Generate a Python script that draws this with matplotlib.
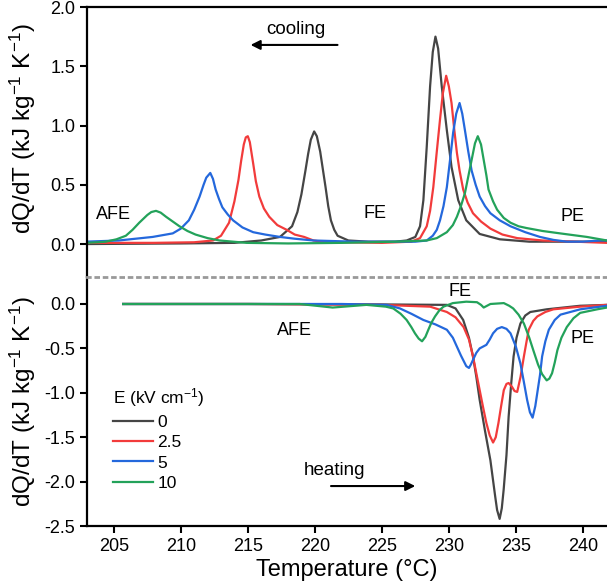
import matplotlib
matplotlib.use('Agg')
import matplotlib.pyplot as plt

plt.rcParams['font.family'] = ['Liberation Sans', 'DejaVu Sans']
plt.rcParams['mathtext.default'] = 'regular'
plt.rcParams['axes.unicode_minus'] = False

# cooling curves (top panel)
cool_T0 = [203, 210, 214, 216, 217.4, 218.3, 218.7, 219.0, 219.3, 219.5, 219.7, 219.95, 220.15,
           220.4, 220.6, 220.8, 221.0, 221.2, 221.45, 221.7, 222.5, 224, 226, 226.85, 227.5,
           227.85, 228.1, 228.35, 228.6, 228.8, 229.0, 229.2, 229.47, 229.85, 230.2, 230.7,
           231.3, 232.3, 233.8, 236, 241.8]
cool_Q0 = [0.0, 0.005, 0.01, 0.03, 0.06, 0.15, 0.27, 0.42, 0.62, 0.76, 0.88, 0.95, 0.91,
           0.78, 0.63, 0.48, 0.32, 0.20, 0.12, 0.07, 0.03, 0.02, 0.02, 0.03, 0.06,
           0.15, 0.37, 0.82, 1.33, 1.62, 1.75, 1.65, 1.33, 0.96, 0.65, 0.37,
           0.2, 0.085, 0.04, 0.02, 0.02]

cool_T25 = [203, 208, 211, 212.4, 213.0, 213.6, 214.0, 214.3, 214.5, 214.7, 214.85, 215.0,
            215.15, 215.4, 215.6, 215.86, 216.2, 216.6, 217.2, 217.9, 218.5, 219.2, 219.9,
            220.5, 222, 225, 227.2, 227.85, 228.35, 228.6, 228.84, 229.1, 229.34, 229.55,
            229.8, 230.0, 230.2, 230.4, 230.6, 230.8, 231.07, 231.4, 231.8, 232.4, 233.1,
            234, 235.1, 237, 241.8]
cool_Q25 = [0.01, 0.01, 0.015, 0.03, 0.07, 0.18, 0.36, 0.54, 0.70, 0.84, 0.90, 0.91,
            0.86, 0.68, 0.53, 0.40, 0.30, 0.23, 0.16, 0.12, 0.08, 0.06, 0.03,
            0.02, 0.015, 0.01, 0.02, 0.05, 0.15, 0.28, 0.48, 0.78, 1.05, 1.27,
            1.42, 1.33, 1.19, 0.97, 0.77, 0.62, 0.46, 0.35, 0.26, 0.19, 0.13,
            0.08, 0.05, 0.03, 0.01]

cool_T5 = [202.9, 205.37, 207.9, 209.4, 210.0, 210.6, 211.0, 211.4, 211.7, 211.9, 212.2,
           212.4, 212.6, 212.85, 213.1, 213.5, 213.9, 214.6, 215.4, 216.3, 217.4, 218.5,
           219.9, 223, 226.5, 227.5, 228.35, 228.8, 229.1, 229.34, 229.6, 229.85, 230.1,
           230.32, 230.55, 230.8, 231.0, 231.2, 231.45, 231.7, 232.0, 232.3, 232.7, 233.1,
           233.8, 234.6, 235.7, 236.8, 237.8, 238.8, 240, 241.3, 241.8]
cool_Q5 = [0.02, 0.03, 0.06, 0.09, 0.13, 0.2, 0.29, 0.4, 0.5, 0.56, 0.60,
           0.55, 0.46, 0.38, 0.31, 0.25, 0.2, 0.14, 0.1, 0.08, 0.06, 0.045,
           0.03, 0.02, 0.02, 0.02, 0.03, 0.07, 0.12, 0.2, 0.32, 0.48, 0.72,
           0.94, 1.1, 1.19, 1.10, 0.96, 0.78, 0.62, 0.5, 0.4, 0.32, 0.26,
           0.2, 0.15, 0.1, 0.06, 0.035, 0.02, 0.02, 0.03, 0.03]

cool_T10 = [202.9, 203.8, 204.4, 205.2, 205.9, 206.4, 206.9, 207.5, 207.8, 208.15, 208.5,
            208.9, 209.4, 209.9, 210.5, 211.1, 212.0, 212.9, 214.9, 218, 222, 226, 228.35,
            229.1, 229.85, 230.3, 230.6, 230.9, 231.2, 231.45, 231.7, 231.95, 232.16, 232.4,
            232.6, 232.8, 232.96, 233.3, 233.6, 234.1, 234.6, 235.2, 235.8, 237, 238.3,
            239.3, 240.3, 241.8]
cool_Q10 = [0.01, 0.015, 0.02, 0.04, 0.07, 0.12, 0.18, 0.245, 0.27, 0.28, 0.265,
            0.23, 0.19, 0.15, 0.11, 0.08, 0.05, 0.03, 0.01, 0.005, 0.01, 0.02, 0.03,
            0.05, 0.10, 0.16, 0.23, 0.32, 0.43, 0.57, 0.71, 0.85, 0.91, 0.84,
            0.71, 0.58, 0.46, 0.36, 0.29, 0.22, 0.18, 0.15, 0.135, 0.11, 0.09,
            0.075, 0.06, 0.03]

# heating curves (bottom panel)
heat_T0 = [205.7, 215, 225, 229.85, 230.5, 231.07, 231.5, 231.8, 232.05, 232.3, 232.7, 233.1,
           233.46, 233.6, 233.79, 233.95, 234.09, 234.3, 234.46, 234.65, 234.83, 235.05,
           235.34, 235.7, 236.08, 237.3, 239.8, 241.8]
heat_Q0 = [0.0, 0.0, -0.005, -0.01, -0.05, -0.18, -0.38, -0.59, -0.82, -1.08, -1.43, -1.76,
           -2.17, -2.32, -2.42, -2.3, -2.09, -1.7, -1.27, -0.9, -0.59, -0.38,
           -0.22, -0.13, -0.09, -0.06, -0.02, -0.01]

heat_T25 = [205.7, 215, 225, 228.6, 229.85, 230.5, 231.1, 231.5, 231.8, 232.05, 232.3, 232.55,
            232.8, 233.05, 233.3, 233.5, 233.7, 233.9, 234.1, 234.3, 234.46, 234.7, 234.9,
            235.1, 235.35, 235.6, 235.8, 235.96, 236.3, 236.6, 237.2, 237.8, 239.8, 241.8]
heat_Q25 = [0.0, 0.0, -0.01, -0.03, -0.09, -0.15, -0.26, -0.4, -0.59, -0.78, -0.97, -1.16,
            -1.34, -1.48, -1.56, -1.5, -1.34, -1.15, -0.97, -0.9, -0.89, -0.93, -0.98,
            -0.99, -0.82, -0.59, -0.42, -0.29, -0.19, -0.14, -0.09, -0.06, -0.03, -0.01]

heat_T5 = [205.7, 215, 222, 225.35, 226.35, 227.2, 228.1, 229.0, 229.85, 230.3, 230.6, 230.9,
           231.1, 231.3, 231.5, 231.65, 231.8, 232.05, 232.3, 232.8, 233.05, 233.3, 233.6,
           233.95, 234.3, 234.6, 235.0, 235.34, 235.6, 235.84, 236.05, 236.25, 236.45, 236.6,
           236.8, 236.96, 237.2, 237.46, 237.9, 238.33, 239.8, 241.8]
heat_Q5 = [0.0, 0.0, 0.0, -0.01, -0.05, -0.11, -0.18, -0.23, -0.29, -0.38, -0.48, -0.58,
           -0.64, -0.7, -0.72, -0.68, -0.63, -0.55, -0.5, -0.46, -0.4, -0.33, -0.28,
           -0.26, -0.28, -0.33, -0.48, -0.67, -0.88, -1.08, -1.22, -1.28, -1.15, -1.0,
           -0.8, -0.59, -0.42, -0.29, -0.18, -0.12, -0.06, -0.02]

heat_T10 = [205.7, 215, 218.86, 221.33, 223.85, 225.3, 225.85, 226.4, 226.85, 227.2, 227.47,
            227.75, 228.0, 228.25, 228.47, 228.7, 228.97, 229.3, 229.6, 230.3, 231.3, 232.1,
            232.4, 232.6, 232.85, 233.1, 234.1, 234.5, 234.8, 235.2, 235.6, 236.0, 236.3,
            236.65, 236.96, 237.3, 237.5, 237.7, 237.9, 238.1, 238.4, 238.8, 239.3, 239.8,
            241.07, 241.8]
heat_Q10 = [0.0, 0.0, 0.0, -0.04, -0.01, -0.03, -0.05, -0.11, -0.18, -0.26, -0.33,
            -0.39, -0.42, -0.37, -0.29, -0.21, -0.14, -0.07, -0.03, 0.01, 0.026, 0.02,
            -0.01, -0.04, -0.02, 0.0, 0.01, -0.02, -0.05, -0.12, -0.22, -0.38, -0.52,
            -0.68, -0.79, -0.86, -0.84, -0.78, -0.66, -0.52, -0.38, -0.26, -0.16, -0.1,
            -0.06, -0.04]

labels = ['0', '2.5', '5', '10']
colors = ['#454545', '#f23b3b', '#2468dc', '#23a25a']

fig = plt.figure(figsize=(6.07, 5.84), dpi=100)
ax1 = fig.add_axes([0.1433, 0.5257, 0.8567, 0.4623])
ax2 = fig.add_axes([0.1433, 0.0993, 0.8567, 0.4264])

cool = [(cool_T0, cool_Q0), (cool_T25, cool_Q25), (cool_T5, cool_Q5), (cool_T10, cool_Q10)]
heat = [(heat_T0, heat_Q0), (heat_T25, heat_Q25), (heat_T5, heat_Q5), (heat_T10, heat_Q10)]
for (tc, qc), (th, qh), c, lab in zip(cool, heat, colors, labels):
    ax1.plot(tc, qc, color=c, lw=1.6, solid_joinstyle='round')
    ax2.plot(th, qh, color=c, lw=1.6, solid_joinstyle='round', label=lab)

for ax in (ax1, ax2):
    ax.set_xlim(203, 241.8)
    ax.spines['right'].set_visible(False)
    for s in ax.spines.values():
        s.set_linewidth(1.6)
    ax.tick_params(direction='out', length=5, width=1.5, labelsize=13)

ax1.set_ylim(-0.278, 2.0)
ax1.set_yticks([0.0, 0.5, 1.0, 1.5, 2.0])
ax1.set_yticklabels(['0.0', '0.5', '1.0', '1.5', '2.0'])
ax1.spines['bottom'].set_visible(False)
ax1.tick_params(axis='x', bottom=False, labelbottom=False)

ax2.set_ylim(-2.5, 0.304)
ax2.set_yticks([-2.5, -2.0, -1.5, -1.0, -0.5, 0.0])
ax2.set_yticklabels(['-2.5', '-2.0', '-1.5', '-1.0', '-0.5', '0.0'])
ax2.set_xticks([205, 210, 215, 220, 225, 230, 235, 240])
ax2.spines['top'].set_color('#999999')
ax2.spines['top'].set_linestyle((0, (1, 2)))
ax2.spines['top'].set_linewidth(2)

ylab = r'dQ/dT (kJ kg$^{-1}$ K$^{-1}$)'
ax1.set_ylabel(ylab, fontsize=17.5)
ax2.set_ylabel(ylab, fontsize=17.5)
ax1.yaxis.set_label_coords(-0.095, 0.55)
ax2.yaxis.set_label_coords(-0.095, 0.5)
ax2.set_xlabel('Temperature (°C)', fontsize=17, labelpad=3)

ax1.text(205.0, 0.25, 'AFE', fontsize=13, ha='center', va='center')
ax1.text(224.5, 0.26, 'FE', fontsize=13, ha='center', va='center')
ax1.text(239.2, 0.23, 'PE', fontsize=13, ha='center', va='center')
ax1.text(218.6, 1.81, 'cooling', fontsize=13.5, ha='center', va='center')
ax1.annotate('', xy=(215.0, 1.68), xytext=(221.9, 1.68),
             arrowprops=dict(arrowstyle='-|>', color='black', lw=1.5, mutation_scale=14))

ax2.text(218.5, -0.30, 'AFE', fontsize=13, ha='center', va='center')
ax2.text(230.85, 0.146, 'FE', fontsize=13, ha='center', va='center')
ax2.text(240.0, -0.39, 'PE', fontsize=13, ha='center', va='center')
ax2.text(221.5, -1.87, 'heating', fontsize=13.5, ha='center', va='center')
ax2.annotate('', xy=(227.7, -2.05), xytext=(221.0, -2.05),
             arrowprops=dict(arrowstyle='-|>', color='black', lw=1.5, mutation_scale=14))

leg = ax2.legend(title=r'E (kV cm$^{-1}$)', loc='upper left', bbox_to_anchor=(0.05, 0.56),
                 frameon=False, fontsize=12.5, title_fontsize=12.5, handlelength=2.3,
                 handletextpad=0.25, labelspacing=0.3, borderpad=0, borderaxespad=0)
leg._legend_box.align = 'left'

fig.savefig('out.png', dpi=100)
